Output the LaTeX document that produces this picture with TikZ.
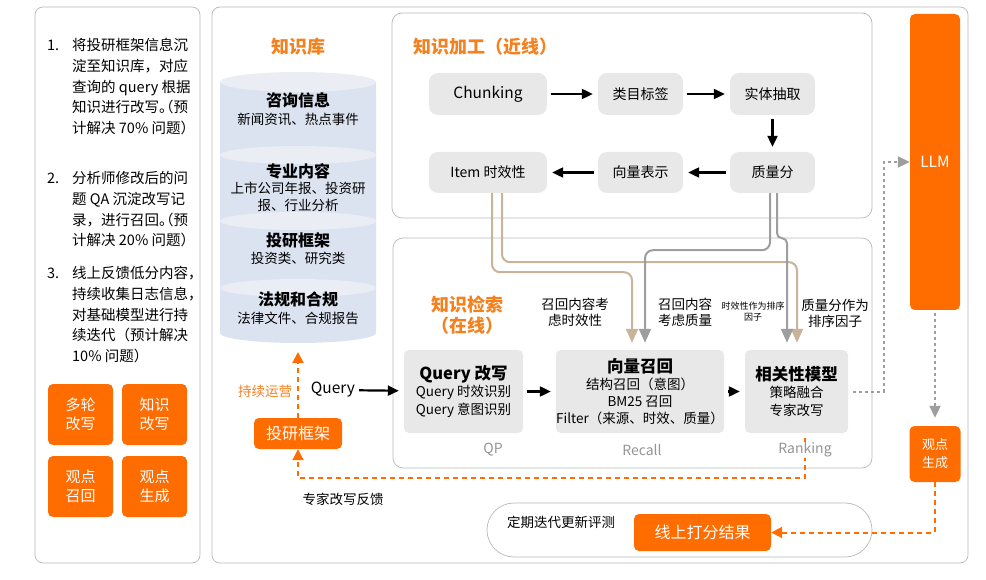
\documentclass[tikz,border=0pt]{standalone}
\usepackage{fontspec}
\setmainfont{Noto Sans CJK SC}
\newfontfamily\halffont[RawFeature=+halt]{Noto Sans CJK SC}
\usetikzlibrary{arrows.meta}

\definecolor{aliorange}{RGB}{255,108,0}
\definecolor{titleorange}{RGB}{245,128,30}
\definecolor{boxgray}{RGB}{232,232,232}
\definecolor{kbbody}{RGB}{219,227,240}
\definecolor{kbtop}{RGB}{234,237,243}
\definecolor{pipetan}{RGB}{200,180,155}
\definecolor{pipegray}{RGB}{158,158,158}
\definecolor{panelline}{RGB}{185,185,185}

\newcommand{\setfs}[2]{\fontsize{#1}{#2}\selectfont}
\newcommand{\hw}[1]{{\halffont #1}}

\begin{document}
\begin{tikzpicture}[
    x=1pt, y=-1pt,
    panel/.style={draw=panelline, line width=0.7pt, rounded corners=8pt},
    title/.style={text=titleorange, font=\setfs{18}{21}\bfseries, inner sep=0pt},
    listtext/.style={anchor=north west, inner sep=0pt, align=left, font=\setfs{14.5}{20.8}},
    kbtext/.style={align=center, inner sep=0pt, font=\setfs{13.5}{17.5}},
    procbox/.style={fill=boxgray, rounded corners=9pt, inner sep=0pt,
        minimum width=85pt, minimum height=42pt, font=\setfs{14}{16}},
    stagebox/.style={fill=boxgray, rounded corners=5pt, inner sep=0pt,
        minimum height=83pt, align=center, font=\setfs{13.5}{17.5}},
    orangebox/.style={fill=aliorange, text=white, rounded corners=5pt,
        inner sep=0pt, align=center},
    lbl/.style={align=center, inner sep=0pt, font=\setfs{13.5}{16}},
    stagelbl/.style={text=black!42, inner sep=1pt, font=\setfs{14}{16}},
    flow/.style={-{Triangle[length=11pt,width=10pt]}, line width=2.2pt,
        shorten <=4pt, shorten >=5pt},
    tanpipe/.style={draw=pipetan, line width=2pt, rounded corners=8pt,
        -{Triangle[length=14pt,width=12pt]}},
    greypipe/.style={draw=pipegray, line width=2pt, rounded corners=8pt,
        -{Triangle[length=14pt,width=12pt]}},
    feedline/.style={draw=aliorange, line width=2pt, dash pattern=on 5pt off 4pt,
        -{Triangle[length=11pt,width=11pt]}},
    greydash/.style={draw=pipegray, line width=2pt, dash pattern=on 3pt off 3pt,
        -{Triangle[length=12pt,width=11pt]}}
]
\useasboundingbox (0,0) rectangle (986,580);

% left column
\draw[panel] (35,7) rectangle (200,563);

\node[listtext] (num1) at (47,38) {\vphantom{将}1.};
\node[listtext] (item1) at (72,38)
{将投研框架信息沉\\淀至知识库，对应\\查询的 query 根据\\知识进行改写\hw{。（}预\\计解决 70\% 问题）};
\node[listtext] (num2) at (47,171) {\vphantom{将}2.};
\node[listtext] (item2) at (72,171)
{分析师修改后的问\\题 QA 沉淀改写记\\录，进行召回\hw{。（}预\\计解决 20\% 问题）};
\node[listtext] (num3) at (47,266) {\vphantom{将}3.};
\node[listtext] (item3) at (72,266)
{线上反馈低分内容\hw{，}\\持续收集日志信息\hw{，}\\对基础模型进行持\\续迭代（预计解决\\10\% 问题）};

\node[orangebox, minimum width=65pt, minimum height=61pt, font=\setfs{15}{19}] (multi) at (80.5,414.5) {多轮\\改写};
\node[orangebox, minimum width=65pt, minimum height=61pt, font=\setfs{15}{19}] (kwrite) at (154.5,414.5) {知识\\改写};
\node[orangebox, minimum width=65pt, minimum height=61pt, font=\setfs{15}{19}] (viewrec) at (80.5,486.5) {观点\\召回};
\node[orangebox, minimum width=65pt, minimum height=61pt, font=\setfs{15}{19}] (viewgenl) at (154.5,486.5) {观点\\生成};

% main frame
\draw[panel] (212,7) rectangle (968,563);

\node[title] (kbtitle) at (298,47) {知识库};

\fill[kbbody] (220,82) -- (220,160) arc[start angle=180, end angle=360, x radius=78pt, y radius=10pt] -- (376,82) -- cycle;
\fill[kbtop] (298,82) ellipse [x radius=78pt, y radius=10pt];
\fill[kbbody] (220,155) -- (220,228) arc[start angle=180, end angle=360, x radius=78pt, y radius=9pt] -- (376,155) -- cycle;
\fill[kbtop] (298,155) ellipse [x radius=78pt, y radius=9pt];
\fill[kbbody] (220,221) -- (220,294) arc[start angle=180, end angle=360, x radius=78pt, y radius=9pt] -- (376,221) -- cycle;
\fill[kbtop] (298,221) ellipse [x radius=78pt, y radius=9pt];
\fill[kbbody] (220,288) -- (220,333) arc[start angle=180, end angle=360, x radius=78pt, y radius=10pt] -- (376,288) -- cycle;
\fill[kbtop] (298,288) ellipse [x radius=78pt, y radius=9pt];

\node[kbtext] (kb1) at (298,109) {{\bfseries\setfs{16}{17.5}咨询信息}\\新闻资讯、热点事件};
\node[kbtext, font=\setfs{13.5}{16.5}] (kb2) at (298,187.5) {{\bfseries\setfs{16}{16.5}专业内容}\\上市公司年报、投资研\\报、行业分析};
\node[kbtext] (kb3) at (298,248.5) {{\bfseries\setfs{16}{17.5}投研框架}\\投资类、研究类};
\node[kbtext] (kb4) at (298,308) {{\bfseries\setfs{16}{17.5}法规和合规}\\法律文件、合规报告};
\coordinate (kbbase) at (298,352);

\node[orangebox, minimum width=88pt, minimum height=31pt, font=\setfs{16}{18}] (frame) at (298,433.5) {投研框架};
\node[lbl, text=titleorange] (opslbl) at (265,391) {持续运营};
\node[inner sep=0pt, font=\setfs{15.5}{18}] (querylbl) at (333,390) {Query};
\node[lbl] (feedlbl) at (343,499) {专家改写反馈};

% near-line processing
\draw[panel, rounded corners=10pt] (392,13) rectangle (872,218);
\node[title, anchor=west] (proctitle) at (413,47) {知识加工（近线）};

\node[procbox, minimum width=118pt, font=\setfs{15.5}{16}] (chunk) at (488,94) {Chunking};
\node[procbox] (tag) at (640.5,94) {类目标签};
\node[procbox] (entity) at (772.5,94) {实体抽取};
\node[procbox, minimum width=118pt, minimum height=41pt] (item) at (488,172.5) {Item 时效性};
\node[procbox, minimum height=41pt] (vecrep) at (640.5,172.5) {向量表示};
\node[procbox, minimum height=41pt] (quality) at (772.5,172.5) {质量分};

\draw[flow] (chunk) -- (tag);
\draw[flow] (tag) -- (entity);
\draw[flow] (entity) -- (quality);
\draw[flow] (quality) -- (vecrep);
\draw[flow] (vecrep) -- (item);

% online retrieval
\draw[panel, rounded corners=10pt] (393,238) rectangle (872,468);
\node[title, align=center] (rettitle) at (467,315.5) {知识检索\\（在线）};

\node[stagebox, minimum width=119pt] (qp) at (463.5,391.5)
{{\bfseries\setfs{16.5}{17.5}Query 改写}\\Query 时效识别\\Query 意图识别};
\node[stagebox, minimum width=168pt, font=\setfs{13.5}{17}] (recall) at (640,391.5)
{{\bfseries\setfs{16.5}{17}向量召回}\\结构召回（意图）\\BM25 召回\\Filter（来源、时效、质量）};
\node[stagebox, minimum width=103pt] (rank) at (796.5,391.5)
{{\bfseries\setfs{16.5}{17.5}相关性模型}\\策略融合\\专家改写};

\draw[flow] (querylbl) -- (qp);
\draw[flow] (qp) -- (recall);
\draw[flow] (recall) -- (rank);

\node[lbl] (timelbl) at (575,312) {召回内容考\\虑时效性};
\node[lbl] (qualitylbl) at (685,312) {召回内容\\考虑质量};
\node[lbl, font=\setfs{9}{11}] (ranktimelbl) at (753,312) {时效性作为排序\\因子};
\node[lbl] (rankqlbl) at (835,313) {质量分作为\\排序因子};

\draw[tanpipe] ([xshift=4pt]item.south) -- ++(0,79) -| ([xshift=-8pt,yshift=7pt]recall.north);
\draw[tanpipe] ([xshift=14pt]item.south) -- ++(0,69) -| ([xshift=0.5pt,yshift=7pt]rank.north);
\draw[greypipe] ([xshift=-2.5pt]quality.south) -- ++(0,57) -| ([xshift=5pt,yshift=7pt]recall.north);
\draw[greypipe, rounded corners=5pt] ([xshift=4.5pt]quality.south) -- ++(0,45) -| ([xshift=-9.5pt,yshift=7pt]rank.north);

% feedback loops
\draw[feedline] (frame) -- (kbbase);
\draw[feedline] ([xshift=8.5pt,yshift=-5pt]rank.south) -- ++(0,40) -| (frame.south);

\node[stagelbl] (qplbl) at (493,450) {QP};
\node[stagelbl] (recalllbl) at (642,450) {Recall};
\node[stagelbl, fill=white] (ranklbl) at (805,450) {Ranking};

% LLM side
\node[orangebox, minimum width=50pt, minimum height=296pt, font=\setfs{15.5}{18}] (llm) at (935,162) {LLM};
\node[orangebox, minimum width=51pt, minimum height=56pt, font=\setfs{13}{18}] (viewgen) at (935,454) {观点\\生成};

\draw[greydash] ([xshift=5pt]rank.east) -| ([xshift=-26pt]llm.west) -- (llm.west);
\draw[greydash, shorten <=3pt, shorten >=8pt] (llm) -- (viewgen);

% evaluation
\node[draw=panelline, line width=0.7pt, rounded corners=27pt, minimum width=385pt, minimum height=54pt] (evalpill) at (679.5,530) {};
\node[lbl] (evallbl) at (561,522) {定期迭代更新评测};
\node[orangebox, minimum width=137pt, minimum height=37pt, font=\setfs{16}{18}] (score) at (702.5,532.5) {线上打分结果};

\draw[feedline] (viewgen) |- (score);

\end{tikzpicture}
\end{document}
